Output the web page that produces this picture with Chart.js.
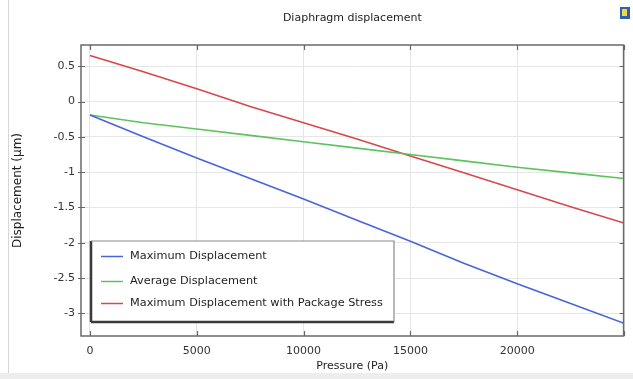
<!DOCTYPE html>
<html><head><meta charset="utf-8">
<script src="https://cdn.jsdelivr.net/npm/chart.js@4/dist/chart.umd.min.js"></script>
<style>html,body{margin:0;padding:0;background:#fff}#wrap{width:633px;height:379px}</style>
</head><body><div id="wrap"><canvas id="c" width="633" height="379"></canvas></div>
<script>
const pressure = [0, 2500, 5000, 7500, 10000, 12500, 15000, 17500, 20000, 22500, 25000];
const maxDisp = [-0.19, -0.50, -0.80, -1.09, -1.38, -1.68, -1.98, -2.29, -2.58, -2.86, -3.14];
const avgDisp = [-0.19, -0.30, -0.39, -0.48, -0.57, -0.66, -0.75, -0.84, -0.93, -1.01, -1.09];
const maxDispPkg = [0.65, 0.42, 0.18, -0.07, -0.30, -0.53, -0.77, -1.01, -1.25, -1.49, -1.72];
const seriesLabels = ['Maximum Displacement', 'Average Displacement', 'Maximum Displacement with Package Stress'];
const xTickValues = [0, 5000, 10000, 15000, 20000, 25000];
const xTickLabels = ['0', '5000', '10000', '15000', '20000', ''];
const yTickValues = [0.5, 0, -0.5, -1, -1.5, -2, -2.5, -3];
const yTickLabels = ['0.5', '0', '-0.5', '-1', '-1.5', '-2', '-2.5', '-3'];
const titleText = 'Diaphragm displacement';
const xTitle = 'Pressure (Pa)';
const yTitle = 'Displacement (\u03bcm)';

const FONT = 'DejaVu Sans';
const colors = ['#4a64dc', '#5cc35c', '#d8474b'];

const bgPlugin = {
  id: 'bg',
  beforeDraw(chart) {
    const ctx = chart.ctx;
    ctx.save();
    ctx.fillStyle = '#ffffff';
    ctx.fillRect(0, 0, chart.width, chart.height);
    ctx.fillStyle = '#ededed';
    ctx.fillRect(0, 373, chart.width, chart.height - 373);
    ctx.strokeStyle = '#d6d6d6';
    ctx.lineWidth = 1;
    ctx.beginPath();
    ctx.moveTo(8.5, 0); ctx.lineTo(8.5, 373);
    ctx.stroke();
    // small icon top right
    ctx.fillStyle = '#2f5fb3';
    ctx.fillRect(620, 7, 10, 12);
    ctx.fillStyle = '#f2d54a';
    ctx.fillRect(622, 9, 5, 7);
    ctx.restore();
  }
};

const framePlugin = {
  id: 'frame',
  afterDatasetsDraw(chart) {
    const ctx = chart.ctx;
    const a = chart.chartArea;
    const xs = chart.scales.x, ys = chart.scales.y;
    ctx.save();
    ctx.strokeStyle = '#6a6a6a';
    ctx.lineWidth = 1.5;
    ctx.strokeRect(a.left, a.top, a.right - a.left, a.bottom - a.top);
    ctx.lineWidth = 1.2;
    ctx.strokeStyle = '#666';
    ctx.beginPath();
    xTickValues.forEach(v => {
      const px = Math.round(xs.getPixelForValue(v)) + 0.5;
      ctx.moveTo(px, a.bottom); ctx.lineTo(px, a.bottom - 5);
      ctx.moveTo(px, a.top); ctx.lineTo(px, a.top + 5);
    });
    yTickValues.forEach(v => {
      const py = Math.round(ys.getPixelForValue(v)) + 0.5;
      ctx.moveTo(a.left - 3, py); ctx.lineTo(a.left + 4, py);
      ctx.moveTo(a.right, py); ctx.lineTo(a.right - 4, py);
    });
    ctx.stroke();

    const bx = 91, by = 241, bw = 303, bh = 81;
    ctx.fillStyle = '#ffffff';
    ctx.fillRect(bx, by, bw, bh);
    ctx.strokeStyle = '#3a3a3a';
    ctx.lineWidth = 2.5;
    ctx.beginPath();
    ctx.moveTo(bx, by + bh); ctx.lineTo(bx + bw, by + bh);
    ctx.moveTo(bx, by); ctx.lineTo(bx, by + bh);
    ctx.stroke();
    ctx.strokeStyle = '#8a8a8a';
    ctx.lineWidth = 1.2;
    ctx.beginPath();
    ctx.moveTo(bx, by); ctx.lineTo(bx + bw, by);
    ctx.lineTo(bx + bw, by + bh);
    ctx.stroke();

    const rowsY = [256, 281, 303];
    let size = 10;
    ctx.font = size + 'px "' + FONT + '"';
    const w = ctx.measureText(seriesLabels[2]).width;
    size = size * 253 / w;
    ctx.font = size.toFixed(2) + 'px "' + FONT + '"';
    ctx.textBaseline = 'middle';
    ctx.textAlign = 'left';
    chart.data.datasets.forEach((ds, i) => {
      ctx.strokeStyle = ds.borderColor;
      ctx.lineWidth = 1.5;
      ctx.beginPath();
      ctx.moveTo(101, rowsY[i] + 0.5); ctx.lineTo(123, rowsY[i] + 0.5);
      ctx.stroke();
      ctx.fillStyle = '#1e1e1e';
      ctx.fillText(ds.label, 130, rowsY[i]);
    });
    ctx.restore();
  }
};

const mk = (label, data, color) => ({
  label,
  data: pressure.map((p, i) => ({ x: p, y: data[i] })),
  borderColor: color,
  backgroundColor: color,
  borderWidth: 1.6,
  pointRadius: 0,
  tension: 0,
  fill: false
});

new Chart(document.getElementById('c'), {
  type: 'line',
  data: {
    datasets: [
      mk(seriesLabels[0], maxDisp, colors[0]),
      mk(seriesLabels[1], avgDisp, colors[1]),
      mk(seriesLabels[2], maxDispPkg, colors[2])
    ]
  },
  options: {
    responsive: false,
    animation: false,
    devicePixelRatio: 1,
    layout: { padding: { left: 0, right: 7, top: 0, bottom: 0 } },
    plugins: {
      legend: { display: false },
      tooltip: { enabled: false },
      title: {
        display: true,
        text: titleText,
        fullSize: false,
        color: '#222',
        font: { family: FONT, size: 11, weight: 'normal' },
        padding: { top: 12, bottom: 19.8 }
      }
    },
    scales: {
      x: {
        type: 'linear',
        min: -420,
        max: 24980,
        afterBuildTicks: s => { s.ticks = xTickValues.map(v => ({ value: v })); },
        afterFit: s => { s.height = 43; },
        ticks: {
          autoSkip: false, maxRotation: 0, padding: 9,
          color: '#333',
          font: { family: FONT, size: 11 },
          callback: (v, i) => xTickLabels[i]
        },
        grid: { color: '#e6e6e6', lineWidth: 1, drawTicks: false },
        border: { display: false },
        title: {
          display: true, text: xTitle, color: '#222',
          font: { family: FONT, size: 11 },
          padding: { top: 0, bottom: 6.4 }
        }
      },
      y: {
        type: 'linear',
        min: -3.32,
        max: 0.8,
        afterBuildTicks: s => { s.ticks = yTickValues.map(v => ({ value: v })); },
        afterFit: s => { s.width = 81; },
        ticks: {
          autoSkip: false, padding: 6,
          color: '#333',
          font: { family: FONT, size: 11 },
          callback: (v, i) => yTickLabels[i]
        },
        grid: { color: '#e6e6e6', lineWidth: 1, drawTicks: false },
        border: { display: false },
        title: {
          display: true, text: yTitle, color: '#222',
          font: { family: FONT, size: 12 },
          padding: { top: 10.8, bottom: 0 }
        }
      }
    }
  },
  plugins: [bgPlugin, framePlugin]
});
</script>
</body></html>
